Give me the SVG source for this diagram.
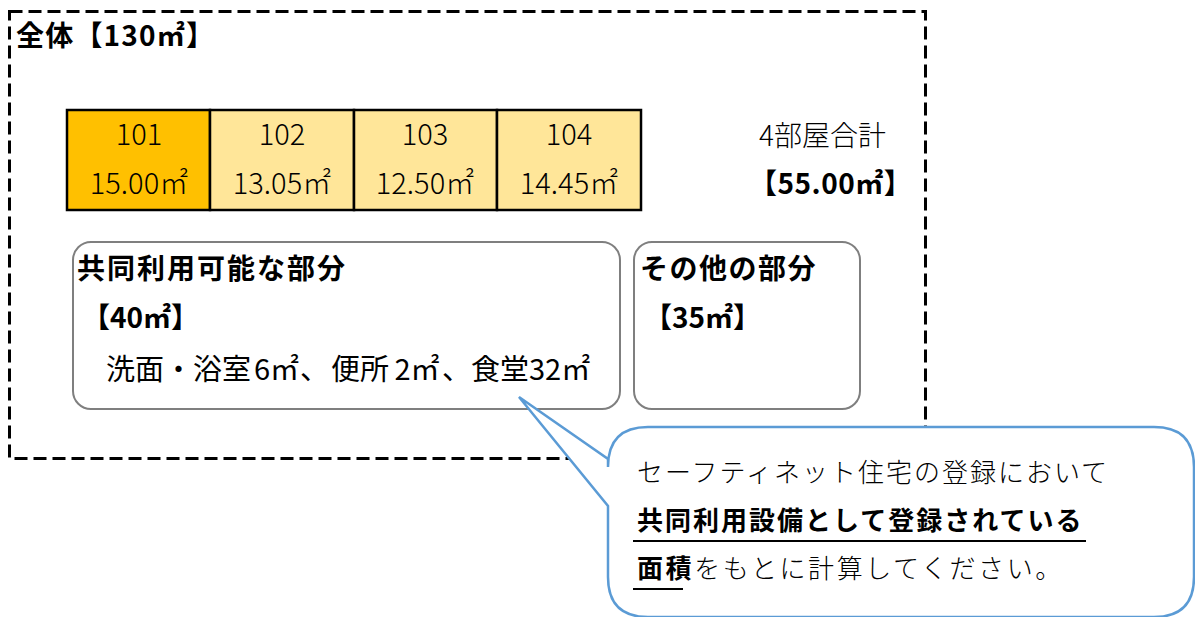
<svg xmlns="http://www.w3.org/2000/svg" width="1195" height="617" viewBox="0 0 1195 617">
<style>
text{font-family:"Noto Sans CJK JP","Noto Sans",sans-serif;fill:#000;}
.b{font-weight:700;}
.l{font-weight:300;}
.room{stroke:#000;stroke-width:2.5;}
.area{fill:#fff;stroke:#7f7f7f;stroke-width:2;}
.mid{text-anchor:middle;}
</style>
<rect width="1195" height="617" fill="#fff"/>
<g id="whole">
<rect x="9.5" y="11.5" width="916" height="447" fill="none" stroke="#000" stroke-width="3" stroke-dasharray="13 6"/>
<text x="16" y="46" class="b" font-size="28" letter-spacing="1.2">全体【130㎡】</text>
</g>
<g id="room101">
<rect class="room" x="67" y="110" width="143" height="100" fill="#FFC000"/>
<text class="l mid" x="139" y="145" font-size="29">101</text>
<text class="l mid" x="139" y="194" font-size="29">15.00㎡</text>
</g>
<g id="room102">
<rect class="room" x="210" y="110" width="144" height="100" fill="#FFE699"/>
<text class="l mid" x="282" y="145" font-size="29">102</text>
<text class="l mid" x="282" y="194" font-size="29">13.05㎡</text>
</g>
<g id="room103">
<rect class="room" x="354" y="110" width="143" height="100" fill="#FFE699"/>
<text class="l mid" x="425" y="145" font-size="29">103</text>
<text class="l mid" x="425" y="194" font-size="29">12.50㎡</text>
</g>
<g id="room104">
<rect class="room" x="497" y="110" width="144" height="100" fill="#FFE699"/>
<text class="l mid" x="569" y="145" font-size="29">104</text>
<text class="l mid" x="569" y="194" font-size="29">14.45㎡</text>
</g>
<g id="total">
<text class="l" x="759" y="146" font-size="28">4部屋合計</text>
<text class="b" x="749" y="194" font-size="28" letter-spacing="0.5">【55.00㎡】</text>
</g>
<g id="shared">
<rect class="area" x="73" y="242" width="547" height="167" rx="18"/>
<text class="b" x="77" y="279" font-size="28" letter-spacing="2">共同利用可能な部分</text>
<text class="b" x="82" y="328" font-size="28">【40㎡】</text>
<text y="380" font-size="29"><tspan x="106">洗面・浴室</tspan><tspan x="254">6㎡</tspan><tspan x="300">、</tspan><tspan x="331">便所</tspan><tspan x="388"> 2㎡</tspan><tspan x="442">、</tspan><tspan x="471">食堂</tspan><tspan x="529">32㎡</tspan></text>
</g>
<g id="other">
<rect class="area" x="634" y="242" width="226" height="167" rx="18"/>
<text class="b" x="640" y="279" font-size="28" letter-spacing="1.5">その他の部分</text>
<text class="b" x="644" y="328" font-size="28">【35㎡】</text>
</g>
<g id="callout">
<path d="M519,397 L608,459 L608,467 Q608,427 648,427 L1154,427 Q1194,427 1194,467 L1194,577 Q1194,617 1154,617 L648,617 Q608,617 608,577 L608,506 Z" fill="#fff" stroke="#5B9BD5" stroke-width="2.5" stroke-linejoin="miter"/>
<text class="l" x="637" y="482" font-size="26" letter-spacing="2">セーフティネット住宅の登録において</text>
<text class="b" x="637" y="530" font-size="26" letter-spacing="2">共同利用設備として登録されている</text>
<line x1="633" y1="541" x2="1086" y2="541" stroke="#000" stroke-width="2"/>
<text x="637" y="578" font-size="26" letter-spacing="2.6"><tspan class="b">面積</tspan><tspan class="l">をもとに計算してください。</tspan></text>
<line x1="633" y1="589" x2="683" y2="589" stroke="#000" stroke-width="2"/>
</g>
</svg>
